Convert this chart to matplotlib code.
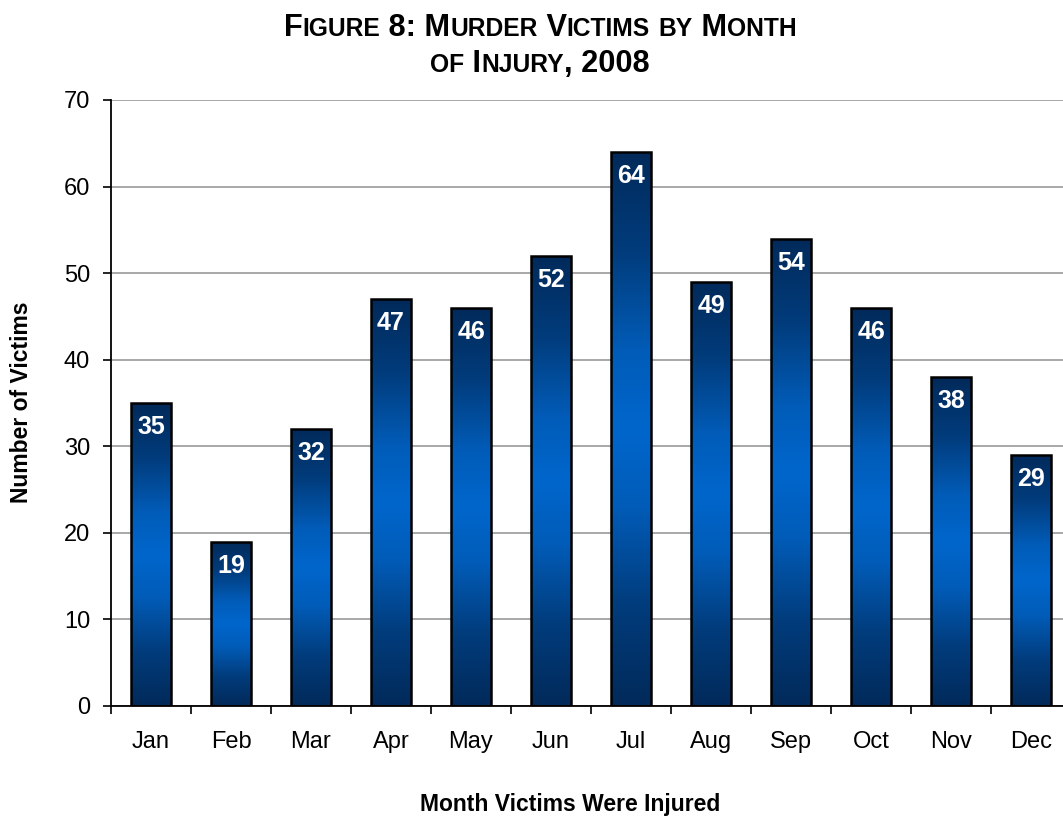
import matplotlib
matplotlib.use("Agg")
import matplotlib.pyplot as plt
import numpy as np
from matplotlib.colors import LinearSegmentedColormap
from matplotlib import font_manager

months = ["Jan", "Feb", "Mar", "Apr", "May", "Jun", "Jul", "Aug", "Sep", "Oct", "Nov", "Dec"]
victims = [35, 19, 32, 47, 46, 52, 64, 49, 54, 46, 38, 29]
yticks = [0, 10, 20, 30, 40, 50, 60, 70]

names = {f.name for f in font_manager.fontManager.ttflist}
base_font = "Liberation Sans" if "Liberation Sans" in names else "DejaVu Sans"
title_font = "Liberation Sans Narrow" if "Liberation Sans Narrow" in names else base_font
plt.rcParams["font.family"] = [base_font, "DejaVu Sans"]

W, H = 1063, 818
fig = plt.figure(figsize=(W / 100, H / 100), dpi=100)
left, right, top, bottom = 111, 1071, 100, 706
ax = fig.add_axes([left / W, 1 - bottom / H, (right - left) / W, (bottom - top) / H])

x = np.arange(len(months))
bars = ax.bar(x, victims, width=0.51, facecolor="none", edgecolor="black", linewidth=1.8, zorder=3)

cmap = LinearSegmentedColormap.from_list(
    "g", [(0.0, "#012a5a"), (0.18, "#023c7c"), (0.36, "#015cb8"), (0.5, "#0066cc"),
          (0.64, "#015cb8"), (0.82, "#023c7c"), (1.0, "#012a5a")])
grad = np.linspace(0, 1, 256).reshape(-1, 1)
for b in bars:
    bx, bw, bh = b.get_x(), b.get_width(), b.get_height()
    im = ax.imshow(grad, cmap=cmap, aspect="auto", extent=[bx, bx + bw, 0, bh],
                   origin="lower", zorder=2, interpolation="bilinear")
    im.set_clip_path(b)

for xi, v in zip(x, victims):
    ax.text(xi, v - 2.8, str(v), ha="center", va="center", color="white",
            fontsize=18, fontweight="bold", zorder=4)

ax.set_xlim(-0.5, len(months) - 0.5)
ax.set_ylim(0, 70)
ax.set_yticks(yticks)
ax.set_yticklabels([str(t) for t in yticks], fontsize=17)
ax.set_xticks(x)
ax.set_xticklabels(months, fontsize=17)
ax.tick_params(axis="x", length=0, pad=18)
ax.set_xticks(np.arange(-0.5, len(months), 1), minor=True)
ax.tick_params(axis="x", which="minor", length=6, width=1.2, direction="out")
ax.tick_params(axis="y", length=6, width=1.2, direction="out", pad=9)
ax.yaxis.grid(True, color="#a8a8a8", linewidth=1.4, zorder=0)
ax.set_axisbelow(True)
for s in ["top", "right"]:
    ax.spines[s].set_visible(False)
ax.spines["left"].set_linewidth(1.3)
ax.spines["bottom"].set_linewidth(1.3)

fig.text(22 / W, 1 - 402 / H, "Number of Victims", rotation=90, ha="center", va="center",
         fontsize=16.5, fontweight="bold")
fig.text(570 / W, 1 - 805 / H, "Month Victims Were Injured", ha="center", va="center",
         fontsize=16.5, fontweight="bold")

# small-caps title, scaled to match the reference line width
def parse(s):
    parts = []
    for ch in s:
        big = not ch.islower()
        txt = ch.upper()
        if parts and parts[-1][1] == big:
            parts[-1] = (parts[-1][0] + txt, big)
        else:
            parts.append((txt, big))
    return parts

def make_line(parts, big, small):
    return [fig.text(0, 0, s, fontsize=big if b else small, fontweight="bold",
                     family=[title_font, "DejaVu Sans"], va="baseline", ha="left")
            for s, b in parts]

r = fig.canvas.get_renderer()
line1 = parse("Figure 8: Murder Victims by Month")
line2 = parse("of Injury, 2008")
probe = make_line(line1, 20, 16)
pw = sum(t.get_window_extent(r).width for t in probe)
for t in probe:
    t.remove()
scale = 514.0 / pw
big_sz, small_sz = 20 * scale, 16 * scale

def place(parts, cx, cy):
    texts = make_line(parts, big_sz, small_sz)
    widths = [t.get_window_extent(r).width for t in texts]
    xpos = cx - sum(widths) / 2
    for t, w in zip(texts, widths):
        t.set_position((xpos / W, 1 - cy / H))
        xpos += w

place(line1, 540, 36)
place(line2, 540, 72)

fig.savefig("out.png", dpi=100)
